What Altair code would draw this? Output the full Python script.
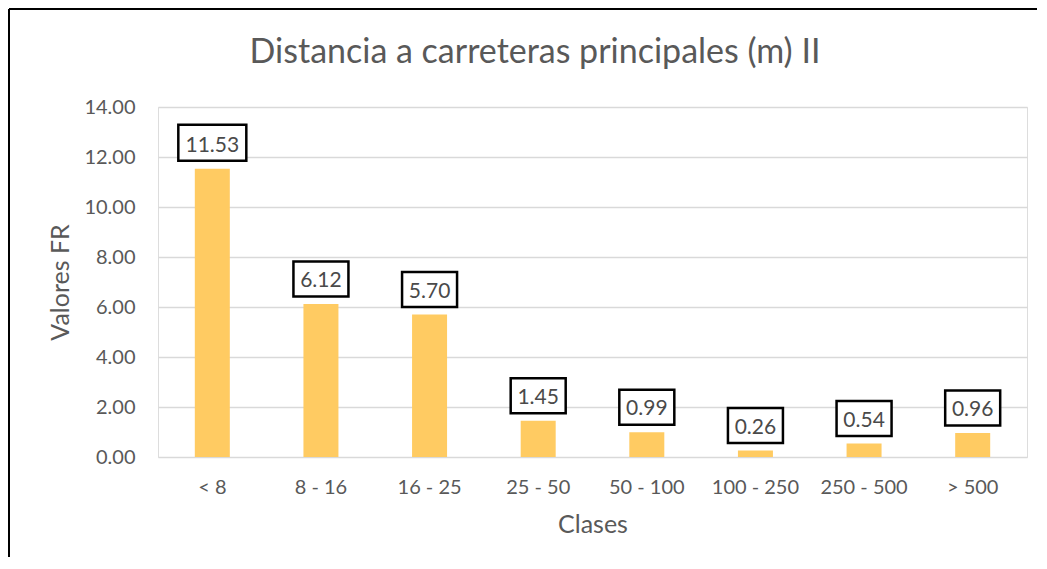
import altair as alt
import pandas as pd

classes = ["< 8", "8 - 16", "16 - 25", "25 - 50", "50 - 100", "100 - 250", "250 - 500", "> 500"]
values = [11.53, 6.12, 5.70, 1.45, 0.99, 0.26, 0.54, 0.96]
labels = ["11.53", "6.12", "5.70", "1.45", "0.99", "0.26", "0.54", "0.96"]
y_ticks = [0, 2, 4, 6, 8, 10, 12, 14]
title_text = ["Distancia a carreteras principales (m) II"]

df = pd.DataFrame({"Clases": classes, "FR": values, "label": labels})
df["wide"] = df["label"].str.len() > 4

FONT = "Lato"
GREY = "#595959"
BAR = "#FFCB62"

x_enc = alt.X(
    "Clases:N", sort=classes,
    scale=alt.Scale(paddingInner=0, paddingOuter=0),
    axis=alt.Axis(
        title="Clases", labelAngle=0, labelFontSize=20, labelColor=GREY, labelFont=FONT,
        labelPadding=20, ticks=False, domain=False, grid=False,
        titleFontSize=25, titleColor=GREY, titleFont=FONT, titleFontWeight="normal",
        titleY=67, titleBaseline="middle",
    ),
)
y_enc = alt.Y(
    "FR:Q",
    scale=alt.Scale(domain=[0, 14], nice=False),
    axis=alt.Axis(
        title="Valores FR", values=y_ticks, format=".2f", labelFontSize=20, labelColor=GREY,
        labelFont=FONT, labelPadding=23, ticks=False, domain=False,
        gridColor="#D9D9D9", gridWidth=1.6,
        titleFontSize=25, titleColor=GREY, titleFont=FONT, titleFontWeight="normal",
        titleX=-98, titleY=175, titleAngle=-90, titleAlign="center", titleBaseline="middle",
    ),
)

base = alt.Chart(df)

bars = base.mark_bar(width=35, color=BAR).encode(x=x_enc, y=y_enc)

box_wide = base.transform_filter("datum.wide").mark_point(
    shape="M-1,-0.529H1V0.529H-1Z", size=68 * 68, filled=True, fill="white",
    stroke="black", strokeWidth=2.5, opacity=1, yOffset=-26,
).encode(x=alt.X("Clases:N", sort=classes), y="FR:Q")

box_narrow = base.transform_filter("!datum.wide").mark_point(
    shape="M-1,-0.636H1V0.636H-1Z", size=55 * 55, filled=True, fill="white",
    stroke="black", strokeWidth=2.5, opacity=1, yOffset=-25,
).encode(x=alt.X("Clases:N", sort=classes), y="FR:Q")

text = base.mark_text(
    font=FONT, fontSize=21, color="#4a4a4a", baseline="alphabetic", align="center", dy=-17,
).encode(x=alt.X("Clases:N", sort=classes), y="FR:Q", text="label:N")

title = alt.Chart(pd.DataFrame({"t": title_text})).mark_text(
    font=FONT, fontSize=34, color=GREY, baseline="alphabetic", align="center",
).encode(x=alt.value(377), y=alt.value(-44), text="t:N")

border_left = base.mark_rule(color="black", strokeWidth=2).encode(
    x=alt.value(-149), y=alt.value(-98), y2=alt.value(600)
)
border_top = base.mark_rule(color="black", strokeWidth=2).encode(
    y=alt.value(-98), x=alt.value(-149), x2=alt.value(1100)
)

chart = alt.layer(border_left, border_top, bars, box_wide, box_narrow, text, title).properties(
    width=869, height=350,
    autosize=alt.AutoSizeParams(type="none"),
    padding={"left": 150, "top": 99, "right": 10, "bottom": 100},
).configure_view(stroke=None).configure(background="white")

chart.save("out.html", embed_options={"renderer": "svg", "actions": False})
